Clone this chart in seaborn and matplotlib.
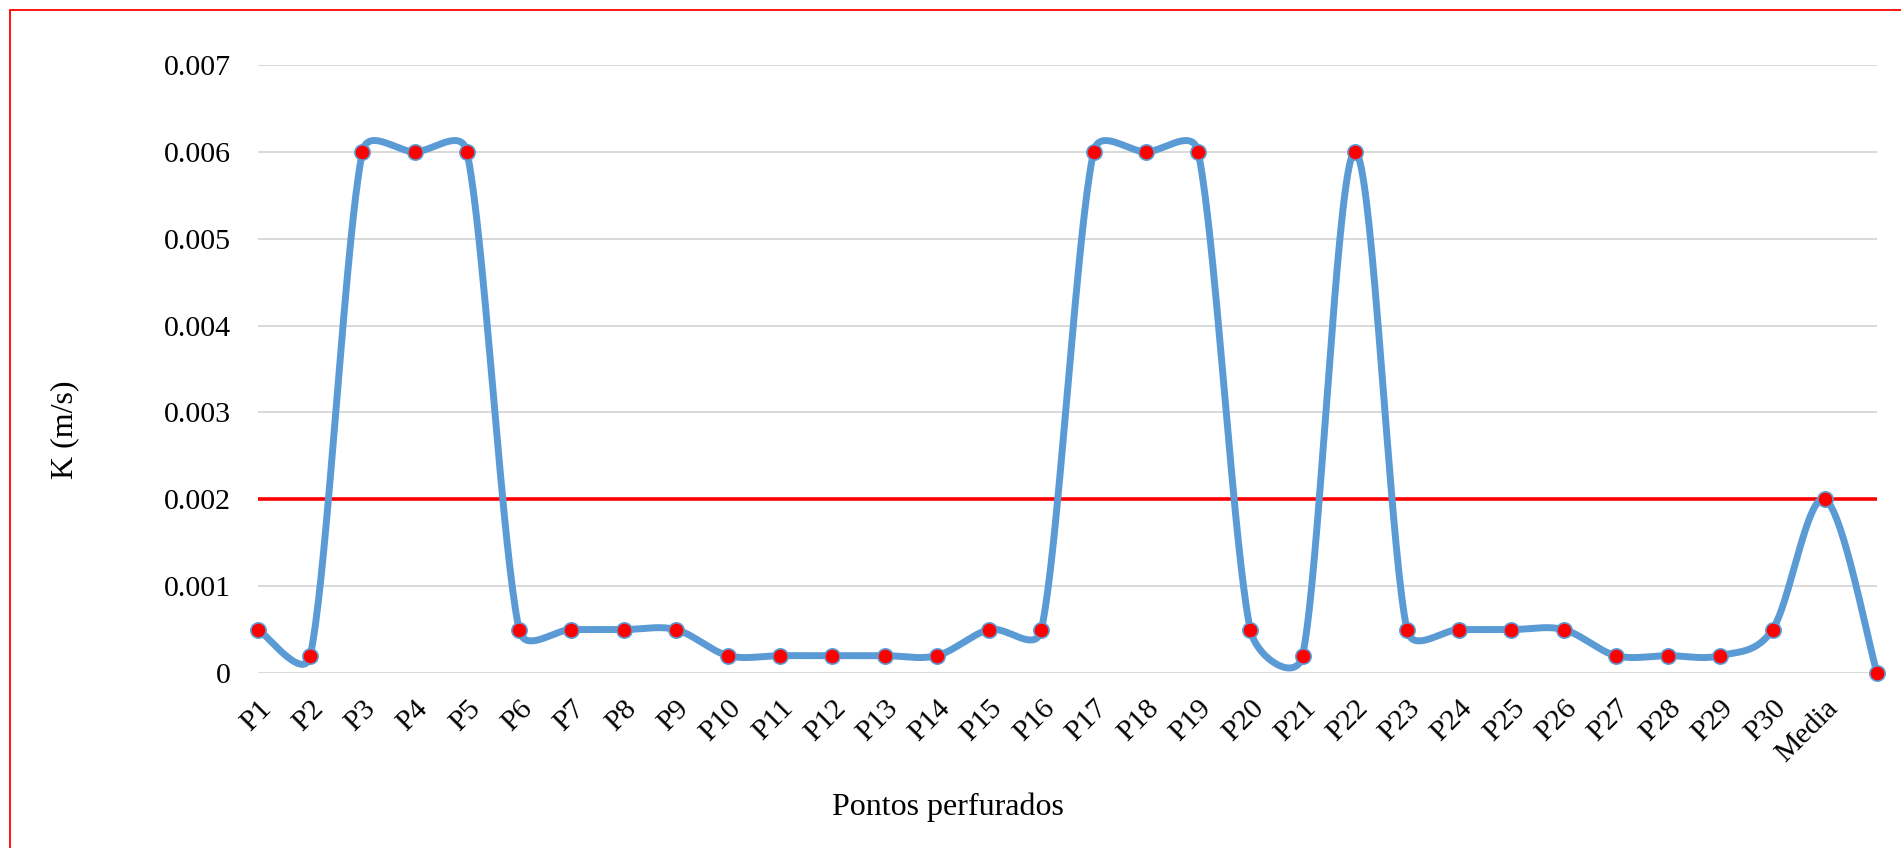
import numpy as np
import pandas as pd
import matplotlib
matplotlib.use("Agg")
import matplotlib.pyplot as plt
from matplotlib.patches import Rectangle
import seaborn as sns

# Hydraulic conductivity per drilled point (last category is an unlabeled zero point)
categories = [f"P{i}" for i in range(1, 31)] + ["Media", ""]
k_values = [0.0005, 0.0002, 0.006, 0.006, 0.006, 0.0005, 0.0005, 0.0005, 0.0005,
            0.0002, 0.0002, 0.0002, 0.0002, 0.0002, 0.0005, 0.0005, 0.006, 0.006,
            0.006, 0.0005, 0.0002, 0.006, 0.0005, 0.0005, 0.0005, 0.0005, 0.0002,
            0.0002, 0.0002, 0.0005, 0.002, 0.0]
reference_value = 0.002
y_ticks = [0, 0.001, 0.002, 0.003, 0.004, 0.005, 0.006, 0.007]
y_tick_labels = ["0", "0.001", "0.002", "0.003", "0.004", "0.005", "0.006", "0.007"]

sns.set_theme(style="white")
plt.rcParams["font.family"] = ["Liberation Serif", "DejaVu Serif"]

W, H, DPI = 1901, 848, 100
fig = plt.figure(figsize=(W / DPI, H / DPI), dpi=DPI)
ax = fig.add_axes([258 / W, 1 - 673 / H, (1877 - 258) / W, (673 - 65) / H])

n = len(categories)
x = np.arange(n)
ax.set_xlim(0, n - 1)
ax.set_ylim(0, 0.007)


def smooth_curve(xs, ys, ax, samples=40):
    """Bezier smoothing with control distances limited by segment length (pixel space)."""
    pts = ax.transData.transform(np.column_stack([xs, ys]))
    out = []
    m = len(pts)
    for i in range(m - 1):
        p0 = pts[max(i - 1, 0)]
        p1 = pts[i]
        p2 = pts[i + 1]
        p3 = pts[min(i + 2, m - 1)]
        d12 = np.linalg.norm(p2 - p1)
        d02 = np.linalg.norm(p2 - p0)
        d13 = np.linalg.norm(p3 - p1)
        f1 = min(1 / 6, 0.5 * d12 / d02) if d02 > 0 else 0
        f2 = min(1 / 6, 0.5 * d12 / d13) if d13 > 0 else 0
        c1 = p1 + (p2 - p0) * f1
        c2 = p2 - (p3 - p1) * f2
        t = np.linspace(0, 1, samples)[:, None]
        seg = ((1 - t) ** 3) * p1 + 3 * ((1 - t) ** 2) * t * c1 + 3 * (1 - t) * t ** 2 * c2 + t ** 3 * p2
        out.append(seg if i == 0 else seg[1:])
    curve = np.vstack(out)
    return ax.transData.inverted().transform(curve)


# gridlines
for yv in y_ticks:
    ax.axhline(yv, color="#D9D9D9", lw=1.4, zorder=0)

# threshold line
ref_df = pd.DataFrame({"x": x, "k": [reference_value] * n})
sns.lineplot(data=ref_df, x="x", y="k", color="#FF0000", lw=2.6, ax=ax, zorder=2)

# smoothed measured series
curve = smooth_curve(x, k_values, ax)
curve_df = pd.DataFrame({"x": curve[:, 0], "k": curve[:, 1]})
sns.lineplot(data=curve_df, x="x", y="k", sort=False, estimator=None, color="#5B9BD5",
             lw=5.0, ax=ax, zorder=3, solid_capstyle="round", clip_on=False)

pts_df = pd.DataFrame({"x": x, "k": k_values})
sns.scatterplot(data=pts_df, x="x", y="k", s=120, color="#FF0000", edgecolor="#5B9BD5",
                linewidth=1.2, ax=ax, zorder=4, clip_on=False)

for s in ax.spines.values():
    s.set_visible(False)

ax.set_yticks(y_ticks)
ax.set_yticklabels(y_tick_labels, fontsize=21.5, color="#000000")
ax.set_xticks(x)
ax.set_xticklabels(categories, fontsize=21.5, color="#000000", rotation=45,
                   ha="right", va="top", rotation_mode="anchor")
ax.tick_params(axis="y", length=0, pad=19.5)
ax.tick_params(axis="x", length=0, pad=16)
ax.set_xlabel("")
ax.set_ylabel("")

fig.text(948 / W, 1 - 807 / H, "Pontos perfurados", fontsize=23, ha="center", va="center",
         color="#000000")
fig.text(65 / W, 1 - 430 / H, "K (m/s)", fontsize=23, ha="center", va="center",
         rotation=90, color="#000000")

# outer frame
fig.patches.append(Rectangle((10 / W, -0.05), 1.05, 1 - 10 / H + 0.05, transform=fig.transFigure,
                             fill=False, edgecolor="#FF0000", lw=1.3))

fig.savefig("out.png", dpi=DPI, facecolor="white")
